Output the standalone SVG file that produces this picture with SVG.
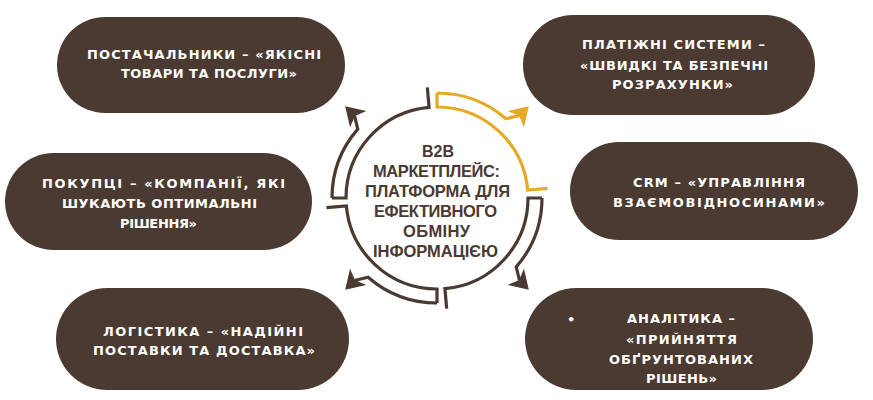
<svg xmlns="http://www.w3.org/2000/svg" xmlns:xlink="http://www.w3.org/1999/xlink" width="873" height="400" viewBox="0 0 873 400">
  <style>
    .pill { fill: #4a3a31; }
    .pt { fill: #ffffff; font-family: "DejaVu Sans", "Liberation Sans", sans-serif; font-weight: 700; font-size: 13px; }
    .ct { fill: #4a3a31; font-family: "Liberation Sans", "DejaVu Sans", sans-serif; font-weight: 700; font-size: 16.5px; }
  </style>
  <defs>
    <g id="quad">
      <path d="M 0 -105 L 0 -91 A 91 91 0 0 1 90.65 -7.93 L 110.58 -9.67 M 0 -105 A 105 105 0 0 1 68.89 -79.24 L 82.5 -82.5" fill="none" stroke="currentColor" stroke-width="3.2"/>
      <polygon points="91,-91 86.8,-72.6 82.5,-82.5 72.6,-86.8" fill="currentColor" stroke="currentColor" stroke-width="1.2" stroke-linejoin="miter"/>
    </g>
  </defs>
  <rect width="873" height="400" fill="#ffffff"/>

  <g id="connectors">
    <use href="#quad" transform="translate(437,198)" color="#e6a925"/>
    <use href="#quad" transform="translate(437,198) rotate(90)" color="#4a3a31"/>
    <use href="#quad" transform="translate(437,198) rotate(180)" color="#4a3a31"/>
    <use href="#quad" transform="translate(437,198) rotate(270)" color="#4a3a31"/>
  </g>

  <g id="center">
    <text class="ct" x="422" y="157" textLength="32" lengthAdjust="spacingAndGlyphs">B2B</text>
    <text class="ct" x="373" y="177" textLength="127" lengthAdjust="spacing">МАРКЕТПЛЕЙС:</text>
    <text class="ct" x="365" y="197" textLength="145" lengthAdjust="spacing">ПЛАТФОРМА ДЛЯ</text>
    <text class="ct" x="374" y="217" textLength="123" lengthAdjust="spacing">ЕФЕКТИВНОГО</text>
    <text class="ct" x="403" y="237" textLength="67" lengthAdjust="spacing">ОБМІНУ</text>
    <text class="ct" x="373" y="257" textLength="125" lengthAdjust="spacing">ІНФОРМАЦІЄЮ</text>
  </g>

  <g id="suppliers">
    <rect class="pill" x="57" y="17" width="288" height="96" rx="48"/>
    <text class="pt" x="87" y="59" textLength="234" lengthAdjust="spacing">ПОСТАЧАЛЬНИКИ – «ЯКІСНІ</text>
    <text class="pt" x="121" y="78" textLength="176" lengthAdjust="spacing">ТОВАРИ ТА ПОСЛУГИ»</text>
  </g>

  <g id="payments">
    <rect class="pill" x="523" y="15" width="292" height="100" rx="50"/>
    <text class="pt" x="582" y="49" textLength="183" lengthAdjust="spacing">ПЛАТІЖНІ СИСТЕМИ –</text>
    <text class="pt" x="580" y="70" textLength="188" lengthAdjust="spacing">«ШВИДКІ ТА БЕЗПЕЧНІ</text>
    <text class="pt" x="612" y="89" textLength="121" lengthAdjust="spacing">РОЗРАХУНКИ»</text>
  </g>

  <g id="buyers">
    <rect class="pill" x="5" y="153" width="307" height="97" rx="48.5"/>
    <text class="pt" x="42" y="188" textLength="243" lengthAdjust="spacing">ПОКУПЦІ – «КОМПАНІЇ, ЯКІ</text>
    <text class="pt" x="62" y="208" textLength="195" lengthAdjust="spacing">ШУКАЮТЬ ОПТИМАЛЬНІ</text>
    <text class="pt" x="120" y="228" textLength="77" lengthAdjust="spacing">РІШЕННЯ»</text>
  </g>

  <g id="crm">
    <rect class="pill" x="570" y="142" width="288" height="98" rx="49"/>
    <text class="pt" x="633" y="187" textLength="172" lengthAdjust="spacing">CRM – «УПРАВЛІННЯ</text>
    <text class="pt" x="613" y="207" textLength="212" lengthAdjust="spacing">ВЗАЄМОВІДНОСИНАМИ»</text>
  </g>

  <g id="logistics">
    <rect class="pill" x="56" y="288" width="293" height="102" rx="51"/>
    <text class="pt" x="103" y="336" textLength="200" lengthAdjust="spacing">ЛОГІСТИКА – «НАДІЙНІ</text>
    <text class="pt" x="93" y="355" textLength="222" lengthAdjust="spacing">ПОСТАВКИ ТА ДОСТАВКА»</text>
  </g>

  <g id="analytics">
    <rect class="pill" x="525" y="288" width="288" height="102" rx="51"/>
    <text class="pt" x="567" y="324">•</text>
    <text class="pt" x="627" y="323" textLength="108" lengthAdjust="spacing">АНАЛІТИКА –</text>
    <text class="pt" x="626" y="344" textLength="111" lengthAdjust="spacing">«ПРИЙНЯТТЯ</text>
    <text class="pt" x="609" y="364" textLength="144" lengthAdjust="spacing">ОБҐРУНТОВАНИХ</text>
    <text class="pt" x="646" y="383" textLength="71" lengthAdjust="spacing">РІШЕНЬ»</text>
  </g>
</svg>
